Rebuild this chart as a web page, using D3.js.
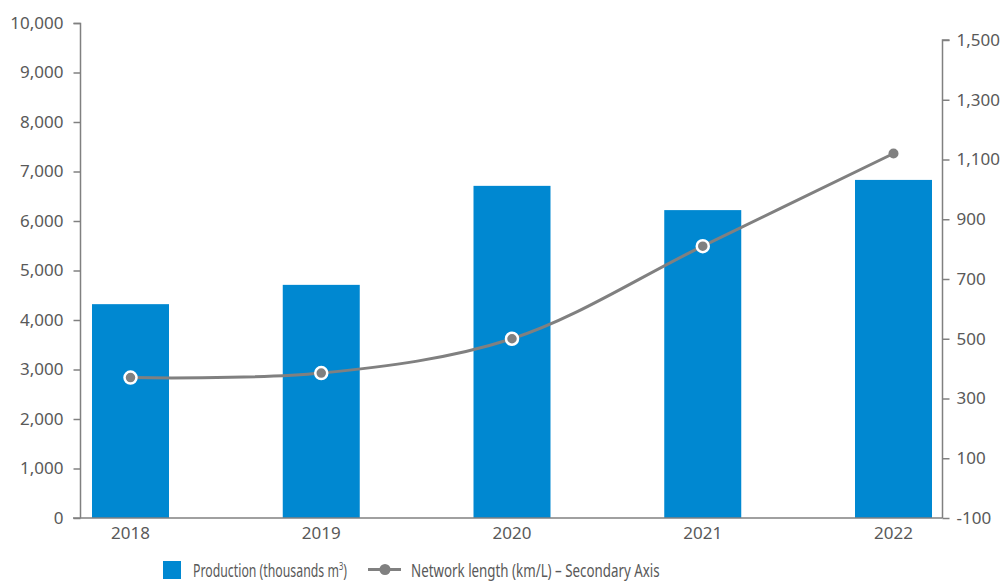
<!DOCTYPE html>
<html>
<head>
<meta charset="utf-8">
<script src="https://cdn.jsdelivr.net/npm/d3@7"></script>
<style>
  body { margin: 0; background: #fff; }
  text { font-family: "Noto Sans", "Open Sans", sans-serif; fill: #595959; }
</style>
</head>
<body>
<svg id="chart" width="1005" height="581"></svg>
<script>
const years = ['2018', '2019', '2020', '2021', '2022'];
const production = [4320, 4710, 6710, 6220, 6830];   // thousands m3
const networkLength = [370, 385, 500, 810, 1120];    // km/L, secondary axis
const leftTicks = [0, 1000, 2000, 3000, 4000, 5000, 6000, 7000, 8000, 9000, 10000];
const rightTicks = [-100, 100, 300, 500, 700, 900, 1100, 1300, 1500];

const svg = d3.select('#chart');
const barColor = '#0088d1';
const gray = '#808080';
const fmt = (d) => d3.format(',')(d).replace('\u2212', '-');

const x = d3.scalePoint().domain(years).range([130.5, 893.5]);
const barWidth = 77;
const yLeft = d3.scaleLinear().domain([0, 10000]).range([518, 23]);
const yRight = d3.scaleLinear().domain([-100, 1500]).range([518, 40]);

// bars
svg.append('g').selectAll('rect')
  .data(years)
  .join('rect')
  .attr('x', (d) => x(d) - barWidth / 2)
  .attr('y', (d, i) => yLeft(production[i]))
  .attr('width', barWidth)
  .attr('height', (d, i) => yLeft(0) - yLeft(production[i]))
  .attr('fill', barColor);

// left axis
const leftAxis = svg.append('g')
  .attr('transform', 'translate(80.5,0)')
  .call(d3.axisLeft(yLeft).tickValues(leftTicks).tickFormat(fmt).tickSize(7).tickPadding(10));

// right axis
const rightAxis = svg.append('g')
  .attr('transform', 'translate(942.5,0)')
  .call(d3.axisRight(yRight).tickValues(rightTicks).tickFormat(fmt).tickSize(7).tickPadding(7));

[leftAxis, rightAxis].forEach(ax => {
  ax.select('.domain').attr('stroke', gray).attr('stroke-width', 1.5);
  ax.selectAll('.tick line').attr('stroke', gray).attr('stroke-width', 1.5);
  ax.selectAll('.tick text').style('font-size', '17px').attr('fill', '#595959');
});
leftAxis.select('.domain').attr('d', 'M-7,23.5H0V518');
rightAxis.select('.domain').attr('d', 'M7,40H0V518');

// baseline
svg.append('line')
  .attr('x1', 73).attr('x2', 942.5)
  .attr('y1', 518).attr('y2', 518)
  .attr('stroke', gray).attr('stroke-width', 1.5);

// year labels
svg.append('g').selectAll('text')
  .data(years)
  .join('text')
  .attr('x', (d) => x(d))
  .attr('y', 539)
  .attr('text-anchor', 'middle')
  .style('font-size', '17px')
  .text(d => d);

// line
const line = d3.line()
  .x((d, i) => x(years[i]))
  .y(d => yRight(d))
  .curve(d3.curveCatmullRom.alpha(0.5));

svg.append('path')
  .datum(networkLength)
  .attr('d', line)
  .attr('fill', 'none')
  .attr('stroke', gray)
  .attr('stroke-width', 3);

svg.append('g').selectAll('circle')
  .data(networkLength)
  .join('circle')
  .attr('cx', (d, i) => x(years[i]))
  .attr('cy', d => yRight(d))
  .attr('r', (d, i) => i < networkLength.length - 1 ? 6 : 5)
  .attr('fill', gray)
  .attr('stroke', (d, i) => i < networkLength.length - 1 ? '#fff' : 'none')
  .attr('stroke-width', 2.5);

// legend (condensed look: squeeze text horizontally to fit)
function squeeze(g, width) {
  const w = g.node().getBBox().width;
  return width / w;
}

const legend = svg.append('g');
legend.append('rect')
  .attr('x', 163).attr('y', 561).attr('width', 18).attr('height', 18)
  .attr('fill', barColor);

const g1 = legend.append('g');
const t1 = g1.append('text')
  .attr('x', 0).attr('y', 0)
  .style('font-size', '18px')
  .text('Production (thousands m');
t1.append('tspan').attr('dy', -7).style('font-size', '11px').text('3');
t1.append('tspan').attr('dy', 7).text(')');
g1.attr('transform', `translate(193,576.5) scale(${squeeze(g1, 154)},1)`);

legend.append('line')
  .attr('x1', 368).attr('x2', 401).attr('y1', 569.5).attr('y2', 569.5)
  .attr('stroke', gray).attr('stroke-width', 3);
legend.append('circle')
  .attr('cx', 385).attr('cy', 569.5).attr('r', 5.5)
  .attr('fill', gray);

const g2 = legend.append('g');
g2.append('text')
  .attr('x', 0).attr('y', 0)
  .style('font-size', '18px')
  .text('Network length (km/L) – Secondary Axis');
g2.attr('transform', `translate(411,576.5) scale(${squeeze(g2, 249)},1)`);
</script>
</body>
</html>
